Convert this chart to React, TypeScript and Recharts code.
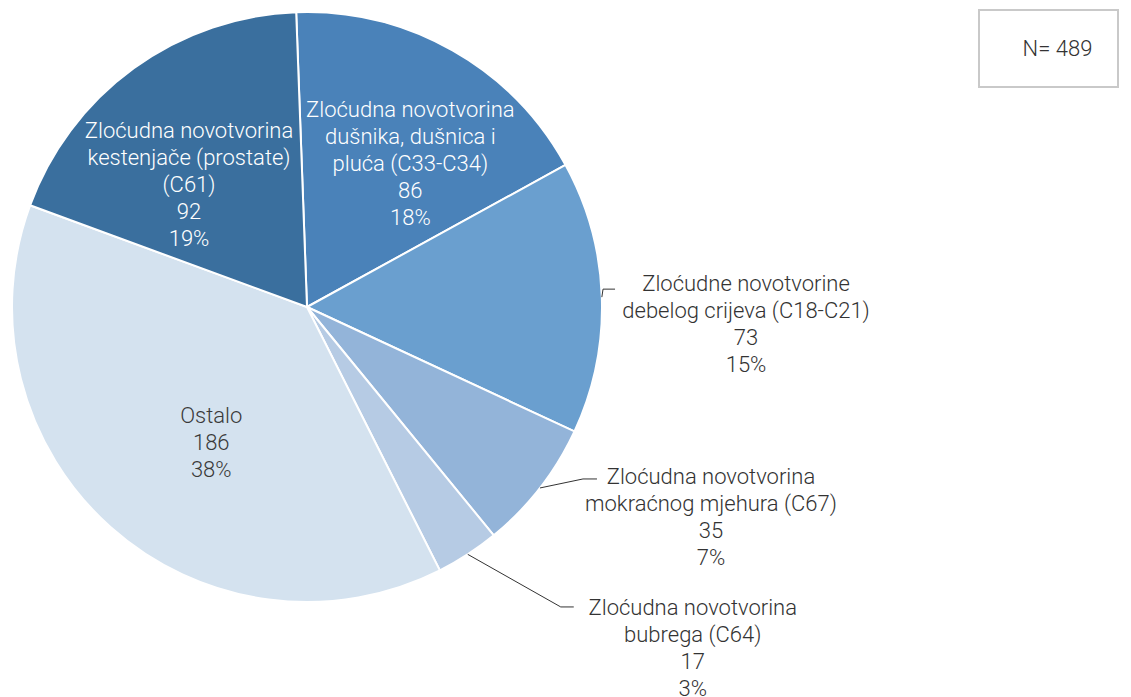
import React from "react";
import { PieChart, Pie, Cell, Legend } from "recharts";

const categories = [
  "Zloćudna novotvorina dušnika, dušnica i pluća (C33-C34)",
  "Zloćudne novotvorine debelog crijeva (C18-C21)",
  "Zloćudna novotvorina mokraćnog mjehura (C67)",
  "Zloćudna novotvorina bubrega (C64)",
  "Ostalo",
  "Zloćudna novotvorina kestenjače (prostate) (C61)",
];
const labelLines = [
  ["Zloćudna novotvorina", "dušnika, dušnica i", "pluća (C33-C34)"],
  ["Zloćudne novotvorine", "debelog crijeva (C18-C21)"],
  ["Zloćudna novotvorina", "mokraćnog mjehura (C67)"],
  ["Zloćudna novotvorina", "bubrega (C64)"],
  ["Ostalo"],
  ["Zloćudna novotvorina", "kestenjače (prostate)", "(C61)"],
];
const values = [86, 73, 35, 17, 186, 92];
const totalLabel = "N= 489";

const colors = ["#4a82b9", "#6a9fcf", "#93b4d9", "#b6cbe4", "#d4e2ef", "#3a6f9e"];

// label placement (layout only)
type Place =
  | { kind: "in"; dx: number; dy: number; color: string }
  | { kind: "out"; ex: number; ey: number; h: number; tx: number; ty: number };
const placements: Place[] = [
  { kind: "in", dx: 16, dy: 9.5, color: "#ffffff" },
  { kind: "out", ex: 1.2, ey: -8, h: 12, tx: 131, ty: -6 },
  { kind: "out", ex: 43, ey: -9, h: 14, tx: 114, ty: -3 },
  { kind: "out", ex: 93, ey: 52.6, h: 13, tx: 119, ty: 0 },
  { kind: "in", dx: 22, dy: 3, color: "#3a3a3a" },
  { kind: "in", dx: -14, dy: 20, color: "#ffffff" },
];

const data = categories.map((name, i) => ({ name, value: values[i] }));

const FONT = "Roboto, sans-serif";
const FS = 22;
const LH = 27;
const RAD = Math.PI / 180;

const renderLabel = (props: any) => {
  const { cx, cy, midAngle, outerRadius, index, value, percent } = props;
  const p = placements[index];
  const lines = [...labelLines[index], String(value), `${Math.round(percent * 100)}%`];
  const cos = Math.cos(-midAngle * RAD);
  const sin = Math.sin(-midAngle * RAD);
  if (p.kind === "in") {
    const r = outerRadius * 0.6;
    const x = cx + r * cos + p.dx;
    const y = cy + r * sin + p.dy;
    const y0 = y - ((lines.length - 1) * LH) / 2;
    return (
      <text x={x} y={y0} fill={p.color} fontFamily={FONT} fontSize={FS} fontWeight={300} textAnchor="middle" dominantBaseline="central">
        {lines.map((l, i) => (
          <tspan key={i} x={x} y={y0 + i * LH}>
            {l}
          </tspan>
        ))}
      </text>
    );
  }
  const ex = cx + outerRadius * cos;
  const ey = cy + outerRadius * sin;
  const bx = ex + p.ex;
  const by = ey + p.ey;
  const endX = bx + p.h;
  const tx = endX + p.tx;
  const y0 = by + p.ty;
  return (
    <g>
      <polyline points={`${ex},${ey} ${bx},${by} ${endX},${by}`} fill="none" stroke="#333333" strokeWidth={1} />
      <text x={tx} y={y0} fill="#333333" fontFamily={FONT} fontSize={FS} fontWeight={300} textAnchor="middle" dominantBaseline="central">
        {lines.map((l, i) => (
          <tspan key={i} x={tx} y={y0 + i * LH}>
            {l}
          </tspan>
        ))}
      </text>
    </g>
  );
};

const NBox = () => (
  <div
    style={{
      boxSizing: "border-box",
      width: 141,
      height: 79,
      border: "2px solid #c9c9c9",
      display: "flex",
      alignItems: "center",
      justifyContent: "center",
      paddingLeft: 18,
      fontFamily: FONT,
      fontWeight: 300,
      fontSize: FS,
      color: "#333333",
      background: "#fff",
    }}
  >
    {totalLabel}
  </div>
);

export default function App() {
  return (
    <div style={{ position: "absolute", left: 0, top: 0, width: 1131, height: 697, background: "#fff" }}>
      <PieChart width={1131} height={697} margin={{ top: 0, right: 0, bottom: 0, left: 0 }}>
        <Pie
          data={data}
          dataKey="value"
          nameKey="name"
          cx={307}
          cy={307}
          outerRadius={295}
          startAngle={92.1}
          endAngle={-267.9}
          stroke="#ffffff"
          strokeWidth={2}
          label={renderLabel}
          labelLine={false}
          isAnimationActive={false}
        >
          {data.map((_, i) => (
            <Cell key={i} fill={colors[i]} />
          ))}
        </Pie>
        <Legend content={() => <NBox />} wrapperStyle={{ position: "absolute", top: 9, left: 978, width: 141 }} />
      </PieChart>
    </div>
  );
}
